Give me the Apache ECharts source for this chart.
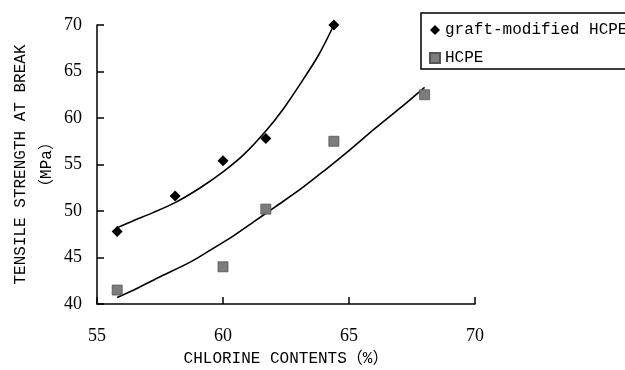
<!DOCTYPE html>
<html>
<head>
<meta charset="utf-8">
<script src="https://cdn.jsdelivr.net/npm/echarts@6/dist/echarts.min.js"></script>
<style>
  html, body { margin: 0; padding: 0; background: #fff; }
  #chart { width: 625px; height: 370px; }
</style>
</head>
<body>
<div id="chart"></div>
<script>
// Measured points: chlorine content (%) vs tensile strength at break (MPa)
var graftX = [55.8, 58.1, 60.0, 61.7, 64.4];
var graftY = [47.8, 51.6, 55.4, 57.8, 70.0];
var hcpeX = [55.8, 60.0, 61.7, 64.4, 68.0];
var hcpeY = [41.5, 44.0, 50.2, 57.5, 62.5];

// Trend curves traced through each data set
var graftFitX = [55.8, 56.4, 57.2, 58.1, 59.1, 60.0, 60.8, 61.7, 62.4, 63.1, 63.8, 64.4];
var graftFitY = [48.2, 48.9, 49.8, 50.9, 52.5, 54.2, 56.0, 58.6, 61.0, 63.8, 66.8, 70.0];
var hcpeFitX = [55.8, 56.6, 57.4, 58.7, 59.5, 60.4, 61.2, 62.1, 63.1, 64.0, 65.0, 66.0, 67.0, 68.0];
var hcpeFitY = [40.7, 41.7, 42.8, 44.5, 45.8, 47.3, 48.8, 50.5, 52.4, 54.3, 56.5, 58.8, 61.0, 63.3];

// Axis ranges and tick spacing
var xRange = [55, 70, 5];
var yRange = [40, 70, 5];

var seriesNames = ['graft-modified HCPE', 'HCPE'];

function pairs(xs, ys) {
  return xs.map(function (x, i) { return [x, ys[i]]; });
}

var monoFont = '"Liberation Mono", "Noto Sans CJK SC", monospace';
var serifFont = '"Liberation Serif", serif';

var chart = echarts.init(document.getElementById('chart'), null, { renderer: 'canvas' });

chart.setOption({
  backgroundColor: '#ffffff',
  animation: false,
  grid: { left: 97, right: 150, top: 25, bottom: 66, containLabel: false, outerBoundsMode: 'none' },
  legend: {
    data: [
      { name: seriesNames[0], icon: 'diamond' },
      { name: seriesNames[1], icon: 'rect' }
    ],
    orient: 'vertical',
    left: 421,
    top: 13,
    padding: [9, 6, 3, 8],
    itemGap: 12,
    itemWidth: 10,
    itemHeight: 10,
    borderColor: '#000',
    borderWidth: 1.5,
    borderRadius: 0,
    textStyle: { fontFamily: monoFont, fontSize: 16, color: '#000' }
  },
  xAxis: {
    type: 'value',
    min: xRange[0],
    max: xRange[1],
    interval: xRange[2],
    name: 'CHLORINE CONTENTS（%）',
    nameLocation: 'middle',
    nameGap: 47,
    nameMoveOverlap: false,
    nameTextStyle: { fontFamily: monoFont, fontSize: 16, color: '#000' },
    axisLine: { lineStyle: { color: '#000', width: 1.5 } },
    axisTick: { inside: true, length: 7, lineStyle: { color: '#000', width: 1.5 } },
    axisLabel: { margin: 23, fontFamily: serifFont, fontSize: 18, color: '#000' },
    splitLine: { show: false }
  },
  yAxis: {
    type: 'value',
    min: yRange[0],
    max: yRange[1],
    interval: yRange[2],
    name: 'TENSILE STRENGTH AT BREAK\n（MPa）',
    nameLocation: 'middle',
    nameRotate: 90,
    nameGap: 37,
    nameMoveOverlap: false,
    nameTextStyle: { fontFamily: monoFont, fontSize: 16, color: '#000', lineHeight: 26 },
    axisLine: { lineStyle: { color: '#000', width: 1.5 } },
    axisTick: { inside: true, length: 7, lineStyle: { color: '#000', width: 1.5 } },
    axisLabel: { margin: 15, fontFamily: serifFont, fontSize: 18, color: '#000' },
    splitLine: { show: false }
  },
  series: [
    {
      name: 'graft-modified HCPE trend',
      type: 'line',
      data: pairs(graftFitX, graftFitY),
      smooth: 0.3,
      showSymbol: false,
      silent: true,
      lineStyle: { color: '#000', width: 1.6 },
      z: 2
    },
    {
      name: 'HCPE trend',
      type: 'line',
      data: pairs(hcpeFitX, hcpeFitY),
      smooth: 0.3,
      showSymbol: false,
      silent: true,
      lineStyle: { color: '#000', width: 1.6 },
      z: 2
    },
    {
      name: seriesNames[0],
      type: 'scatter',
      symbol: 'diamond',
      symbolSize: [11, 11],
      data: pairs(graftX, graftY),
      itemStyle: { color: '#000', opacity: 1 },
      z: 3
    },
    {
      name: seriesNames[1],
      type: 'scatter',
      symbol: 'rect',
      symbolSize: [10, 10],
      data: pairs(hcpeX, hcpeY),
      itemStyle: { color: '#7c7c7c', borderColor: '#555', borderWidth: 0.8, opacity: 1 },
      z: 3
    }
  ]
});
</script>
</body>
</html>
